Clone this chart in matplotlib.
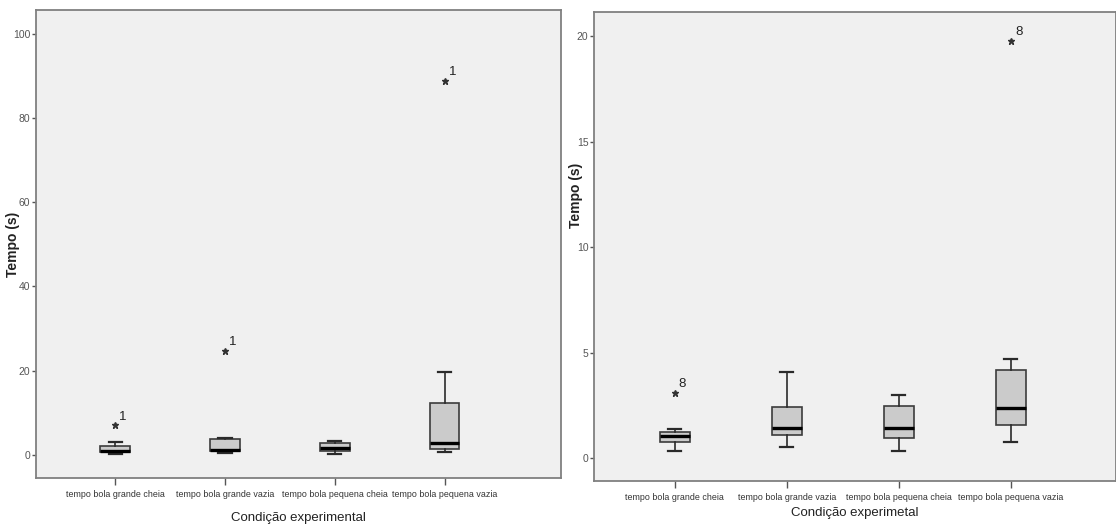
import numpy as np
import matplotlib.pyplot as plt

plt.rcParams['font.family'] = ['Liberation Sans', 'DejaVu Sans']

# condition names (x axis)
conditions = ['tempo bola grande cheia', 'tempo bola grande vazia',
              'tempo bola pequena cheia', 'tempo bola pequena vazia']

# left panel: all participants
left_whislo = [0.3, 0.4, 0.2, 0.6]
left_q1 = [0.7, 1.0, 0.8, 1.35]
left_med = [1.0, 1.2, 1.7, 2.9]
left_q3 = [2.2, 3.8, 2.7, 12.2]
left_whishi = [3.0, 4.0, 3.3, 19.6]
left_outliers = [[7.0], [24.7], [], [88.7]]
left_outlier_ids = ['1', '1', '', '1']

# right panel: participant 1 removed
right_whislo = [0.33, 0.51, 0.35, 0.77]
right_q1 = [0.74, 1.07, 0.93, 1.56]
right_med = [1.06, 1.41, 1.44, 2.38]
right_q3 = [1.23, 2.43, 2.46, 4.17]
right_whishi = [1.36, 4.08, 2.99, 4.69]
right_outliers = [[3.07], [], [], [19.76]]
right_outlier_ids = ['8', '', '', '8']


def make_stats(lo, q1, med, q3, hi):
    stats = []
    for i in range(len(conditions)):
        stats.append(dict(whislo=lo[i], q1=q1[i], med=med[i], q3=q3[i],
                          whishi=hi[i], fliers=[], label=conditions[i]))
    return stats


def draw_panel(ax, stats, outliers, ids, ylim, yticks, xlabel, lab_dy, ylab_xy):
    ax.set_facecolor('#f0f0f0')
    pos = np.arange(1, len(stats) + 1)
    ax.bxp(stats, positions=pos, widths=0.27, capwidths=0.12, patch_artist=True,
           showfliers=False,
           boxprops=dict(facecolor='#cbcbcb', edgecolor='#3c3c3c', linewidth=1.2),
           medianprops=dict(color='black', linewidth=2.4),
           whiskerprops=dict(color='#2a2a2a', linewidth=1.2),
           capprops=dict(color='#2a2a2a', linewidth=1.6))
    for i, vals in enumerate(outliers):
        for v in vals:
            ax.plot(pos[i], v, marker='*', color='#333333', markersize=5, linestyle='none')
            ax.annotate(ids[i], (pos[i], v), xytext=(3, 2), textcoords='offset points',
                        fontsize=9.5, color='#222222', ha='left', va='bottom')
    ax.set_xlim(0.28, 5.06)
    ax.set_ylim(*ylim)
    ax.set_yticks(yticks)
    ax.set_xticks(pos)
    ax.set_xticklabels(conditions, fontsize=6.4, color='#333333')
    ax.tick_params(axis='y', labelsize=7.5, colors='#555555', length=3, width=1, pad=1)
    ax.tick_params(axis='x', length=5, width=1, color='#555555', pad=4)
    for s in ax.spines.values():
        s.set_color('#808080')
        s.set_linewidth(1.3)
    ax.set_ylabel('Tempo (s)', fontsize=10, fontweight='bold', color='#222222')
    ax.yaxis.set_label_coords(*ylab_xy)
    ax.set_xlabel(xlabel, fontsize=9.5, color='#222222', labelpad=lab_dy)


fig = plt.figure(figsize=(11.16, 5.24), dpi=100)
ax1 = fig.add_axes([0.0323, 0.0878, 0.4704, 0.8931])
ax2 = fig.add_axes([0.5323, 0.0821, 0.4677, 0.8950])

draw_panel(ax1, make_stats(left_whislo, left_q1, left_med, left_q3, left_whishi),
           left_outliers, left_outlier_ids, (-5.5, 105.6), [0, 20, 40, 60, 80, 100],
           'Condição experimental', 9, (-0.030, 0.5))
draw_panel(ax2, make_stats(right_whislo, right_q1, right_med, right_q3, right_whishi),
           right_outliers, right_outlier_ids, (-1.09, 21.14), [0, 5, 10, 15, 20],
           'Condição experimetal', 3, (-0.021, 0.61))
ax2.set_xlim(0.28, 4.94)

fig.savefig('out.png', dpi=100)
